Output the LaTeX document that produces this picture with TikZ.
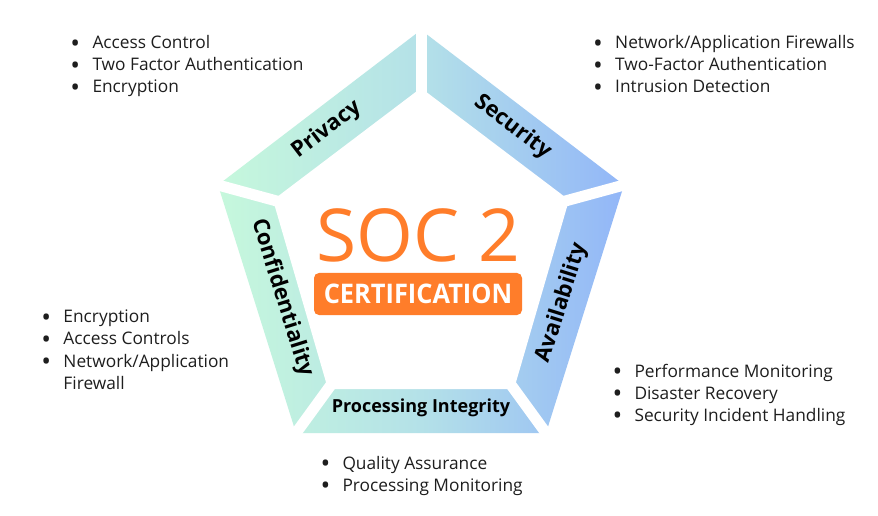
\documentclass[tikz,border=0pt]{standalone}
\usepackage{fontspec}
\setmainfont{Open Sans}
\definecolor{socgreen}{RGB}{198,248,220}
\definecolor{soccyan}{RGB}{180,225,232}
\definecolor{socblue}{RGB}{146,182,248}
\definecolor{socorange}{RGB}{255,125,42}
\definecolor{soctext}{RGB}{30,30,30}

\newcommand{\bul}{\makebox[22bp][l]{\raisebox{-3.8bp}{\scalebox{1.5}{\textbullet}}}}

\begin{document}
\begin{tikzpicture}[
    x=1bp, y=-1bp,
    seglabel/.style={font=\fontsize{22bp}{26bp}\selectfont\bfseries, text=black, inner sep=0pt},
    itemlist/.style={anchor=base west, inner sep=0pt, text=soctext, font=\fontsize{17.3bp}{22bp}\selectfont},
    gapline/.style={draw=white, line width=11bp, shorten <=-8bp, shorten >=-8bp},
    certbox/.style={rectangle, rounded corners=5bp, fill=socorange, text=white, minimum width=208bp, minimum height=42bp, inner sep=0pt, font=\fontsize{27bp}{30bp}\selectfont\bfseries}
]
\fill[white] (0,0) rectangle (878,516);
\useasboundingbox (0,0) rectangle (878,516);

% outer and inner corners of the pentagon
\coordinate (o1) at (421,30);
\coordinate (o2) at (624,185);
\coordinate (o3) at (546,433);
\coordinate (o4) at (296,433);
\coordinate (o5) at (218,185);
\coordinate (i1) at (421,88);
\coordinate (i2) at (569,200);
\coordinate (i3) at (514,389);
\coordinate (i4) at (328,389);
\coordinate (i5) at (273,200);

\shade[left color=socgreen, right color=socblue, middle color=soccyan] (o1) -- (o2) -- (o3) -- (o4) -- (o5) -- cycle;
\fill[white] (i1) -- (i2) -- (i3) -- (i4) -- (i5) -- cycle;
\foreach \k in {1,...,5}
    \draw[gapline] (o\k) -- (i\k);

% segment labels
\node[seglabel, rotate=37.4] (privacy) at (327,130) {Privacy};
\node[seglabel, rotate=-37.4] (security) at (513,127) {Security};
\node[seglabel, rotate=-72.6] (confidentiality) at (282,298) {Confidentiality};
\node[seglabel, rotate=72.6] (availability) at (562,303) {Availability};
\node[seglabel, anchor=base, font=\fontsize{18bp}{22bp}\selectfont\bfseries] (processing) at (421,412) {Processing Integrity};

% centre
\node[anchor=base, inner sep=0pt, text=socorange, font=\fontsize{73bp}{80bp}\selectfont] (soc) at (418,262) {SOC 2};
\node[certbox] (cert) at (418,294) {\scalebox{0.94}[1]{CERTIFICATION}};

% bullet lists
\node[itemlist] (privacylist) at (70.3,48.5) {\begin{tabular}[t]{@{}l@{}}
    \bul Access Control\\
    \bul Two Factor Authentication\\
    \bul Encryption
\end{tabular}};
\node[itemlist] (securitylist) at (593,48.5) {\begin{tabular}[t]{@{}l@{}}
    \bul Network/Application Firewalls\\
    \bul Two-Factor Authentication\\
    \bul Intrusion Detection
\end{tabular}};
\node[itemlist] (conflist) at (41.3,323) {\begin{tabular}[t]{@{}l@{}}
    \bul Encryption\\
    \bul Access Controls\\
    \bul Network/Application\\
    \hspace*{22bp}Firewall
\end{tabular}};
\node[itemlist] (availlist) at (612.3,377) {\begin{tabular}[t]{@{}l@{}}
    \bul Performance Monitoring\\
    \bul Disaster Recovery\\
    \bul Security Incident Handling
\end{tabular}};
\node[itemlist] (proclist) at (320.3,469) {\begin{tabular}[t]{@{}l@{}}
    \bul Quality Assurance\\
    \bul Processing Monitoring
\end{tabular}};
\end{tikzpicture}
\end{document}
